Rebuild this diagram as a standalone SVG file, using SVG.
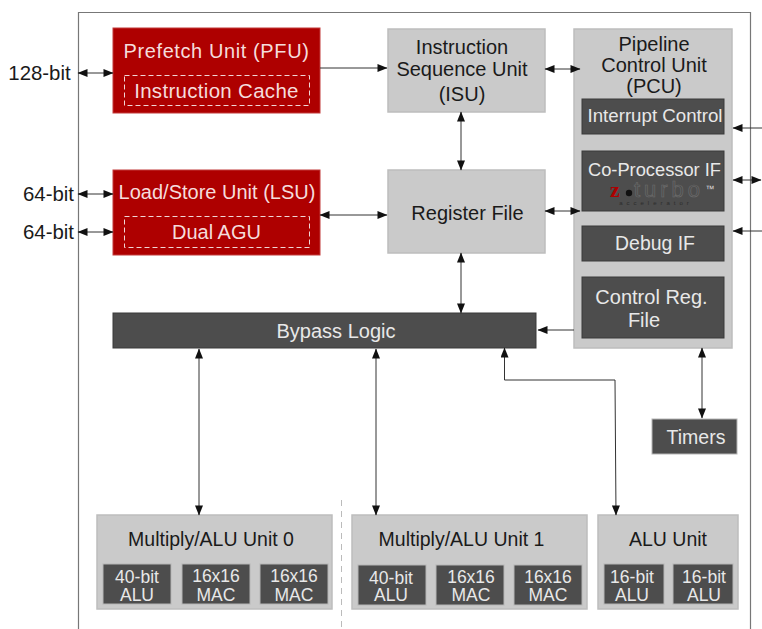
<svg xmlns="http://www.w3.org/2000/svg" width="762" height="629" viewBox="0 0 762 629">
<style>
text{font-family:"Liberation Sans",Arial,sans-serif;text-anchor:middle;font-size:20px}
.red{fill:#ae0000;stroke:#c23a3a;stroke-width:1}
.gr{fill:#cacaca;stroke:#bdbdbd;stroke-width:1.5}
.dk{fill:#4d4d4d;stroke:#3a3a3a;stroke-width:1}
.dks{fill:#4d4d4d;stroke:#b5b5b5;stroke-width:1}
.dash{fill:none;stroke:#f0d5d5;stroke-width:1;stroke-dasharray:5 3}
.w{fill:#e8e8e8}
.rw{fill:#f5dcdc}
.b{fill:#1a1a1a}
.s{font-size:17.500px}
.c{fill:none;stroke:#333;stroke-width:1}
</style>
<defs>
<marker id="a" viewBox="0 0 10 8" refX="9.500" refY="4" markerWidth="11" markerHeight="8" markerUnits="userSpaceOnUse" orient="auto-start-reverse"><path d="M0 0L10 4L0 8Z" fill="#111"/></marker>
</defs>
<rect width="762" height="629" fill="#fff"/>
<path d="M78.500 629V12.500H750.500V629" fill="none" stroke="#777" stroke-width="1.200"/>
<path d="M341.500 500V629" fill="none" stroke="#bbb" stroke-width="1" stroke-dasharray="6 5"/>

<g id="pfu"><rect class="red" x="113" y="28" width="207" height="85"/><rect class="dash" x="124.500" y="75.500" width="185" height="30"/><text class="rw" x="216.500" y="58" style="letter-spacing:.6px">Prefetch Unit (PFU)</text><text class="rw" x="216.500" y="98" style="font-size:20.500px;letter-spacing:.3px">Instruction Cache</text></g>
<g id="lsu"><rect class="red" x="113" y="170" width="207" height="85"/><rect class="dash" x="124.500" y="216.500" width="185" height="31"/><text class="rw" x="217" y="199">Load/Store Unit (LSU)</text><text class="rw" x="216.500" y="239">Dual AGU</text></g>
<g id="isu"><rect class="gr" x="388" y="29" width="157" height="83"/><text class="b" x="462" y="54">Instruction</text><text class="b" x="462" y="76">Sequence Unit</text><text class="b" x="462" y="101">(ISU)</text></g>
<g id="regfile"><rect class="gr" x="388" y="170" width="157" height="83"/><text class="b" x="467.500" y="220">Register File</text></g>
<g id="pcu"><rect class="gr" x="574" y="29" width="158" height="319"/><text class="b" x="654" y="51">Pipeline</text><text class="b" x="654" y="72">Control Unit</text><text class="b" x="654" y="93">(PCU)</text></g>
<g id="interrupt"><rect class="dk" x="582" y="99" width="142" height="35"/><text class="w" x="655" y="122" style="font-size:18.700px">Interrupt Control</text></g>
<g id="coproc"><rect class="dk" x="582" y="151" width="142" height="60"/><text class="w" x="654.500" y="176" style="font-size:18.300px">Co-Processor IF</text><text x="615" y="197" style="font-family:'Liberation Serif',serif;font-size:22px;font-weight:bold" fill="#ae0000">z</text><circle cx="629" cy="193" r="3.200" fill="#111"/><text x="669" y="197" style="font-size:22px;letter-spacing:4px" fill="none" stroke="#6e6e6e" stroke-width=".6">turbo</text><text x="710" y="192" style="font-size:9px" fill="#ddd">™</text><text x="656" y="205" style="font-size:6px;letter-spacing:4px" fill="#2c2c2c">accelerator</text></g>
<g id="debug"><rect class="dk" x="582" y="226" width="142" height="35"/><text class="w" x="655" y="250" style="font-size:19.400px">Debug IF</text></g>
<g id="ctrlreg"><rect class="dk" x="582" y="277" width="142" height="61"/><text class="w" x="651.500" y="304">Control Reg.</text><text class="w" x="644" y="327">File</text></g>
<g id="bypass"><rect class="dk" x="113" y="313" width="423" height="35"/><text class="w" x="336" y="338">Bypass Logic</text></g>
<g id="timers"><rect class="dks" x="652" y="419" width="85" height="35"/><text class="w" x="696" y="444" style="font-size:19.500px">Timers</text></g>

<g id="mul0"><rect class="gr" x="97" y="515" width="235" height="94"/><text class="b" x="211" y="546" style="font-size:19.500px">Multiply/ALU Unit 0</text></g>
<g id="mul0a"><rect class="dks" x="103" y="564" width="68" height="40"/><text class="w s" x="137" y="583">40-bit</text><text class="w s" x="137" y="601">ALU</text></g>
<g id="mul0b"><rect class="dks" x="182" y="564" width="68" height="40"/><text class="w s" x="216" y="582">16x16</text><text class="w s" x="216" y="601">MAC</text></g>
<g id="mul0c"><rect class="dks" x="260" y="564" width="68" height="40"/><text class="w s" x="294" y="582">16x16</text><text class="w s" x="294" y="601">MAC</text></g>

<g id="mul1"><rect class="gr" x="352" y="515" width="235" height="94"/><text class="b" x="461.500" y="546" style="font-size:19.500px">Multiply/ALU Unit 1</text></g>
<g id="mul1a"><rect class="dks" x="358" y="565" width="68" height="40"/><text class="w s" x="391" y="584">40-bit</text><text class="w s" x="391" y="601">ALU</text></g>
<g id="mul1b"><rect class="dks" x="436" y="565" width="68" height="40"/><text class="w s" x="471" y="583">16x16</text><text class="w s" x="471" y="601">MAC</text></g>
<g id="mul1c"><rect class="dks" x="514" y="565" width="68" height="40"/><text class="w s" x="548" y="583">16x16</text><text class="w s" x="548" y="601">MAC</text></g>

<g id="alu"><rect class="gr" x="598" y="515" width="140" height="94"/><text class="b" x="668" y="546" style="font-size:19.500px">ALU Unit</text></g>
<g id="alua"><rect class="dks" x="604" y="564" width="60" height="40"/><text class="w s" x="632" y="583">16-bit</text><text class="w s" x="632" y="601">ALU</text></g>
<g id="alub"><rect class="dks" x="673" y="564" width="60" height="40"/><text class="w s" x="704" y="583">16-bit</text><text class="w s" x="704" y="601">ALU</text></g>

<g id="labels"><text class="b" x="39.500" y="80" style="font-size:20.400px">128-bit</text><text class="b" x="48.500" y="201" style="font-size:20.400px">64-bit</text><text class="b" x="48.500" y="239" style="font-size:20.400px">64-bit</text></g>

<g id="connectors">
<path class="c" d="M78 73H113" marker-start="url(#a)" marker-end="url(#a)"/>
<path class="c" d="M78 194H113" marker-start="url(#a)" marker-end="url(#a)"/>
<path class="c" d="M78 232H113" marker-start="url(#a)" marker-end="url(#a)"/>
<path class="c" d="M320 68H387" marker-end="url(#a)"/>
<path class="c" d="M320 215H387" marker-start="url(#a)" marker-end="url(#a)"/>
<path class="c" d="M545 69H580" marker-start="url(#a)" marker-end="url(#a)"/>
<path class="c" d="M545 211H580" marker-start="url(#a)" marker-end="url(#a)"/>
<path class="c" d="M461 112V170" marker-start="url(#a)" marker-end="url(#a)"/>
<path class="c" d="M461 253V313" marker-start="url(#a)" marker-end="url(#a)"/>
<path class="c" d="M574 330H538" marker-end="url(#a)"/>
<path class="c" d="M199 349V515" marker-start="url(#a)" marker-end="url(#a)"/>
<path class="c" d="M376 349V515" marker-start="url(#a)" marker-end="url(#a)"/>
<path class="c" d="M504.500 348V380H615L616 515" marker-start="url(#a)" marker-end="url(#a)"/>
<path class="c" d="M702 348V418" marker-start="url(#a)" marker-end="url(#a)"/>
<path class="c" d="M762 128H733" marker-end="url(#a)"/>
<path class="c" d="M761 180H733" marker-start="url(#a)" marker-end="url(#a)"/>
<path class="c" d="M762 231H733" marker-end="url(#a)"/>
</g>
</svg>
